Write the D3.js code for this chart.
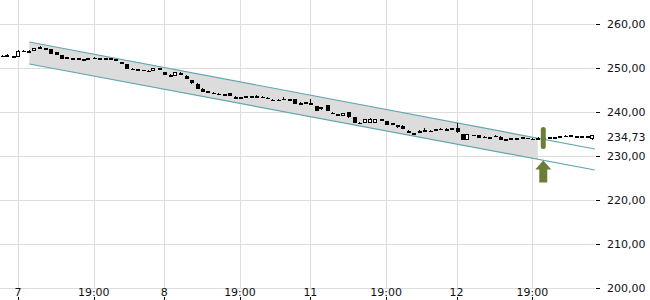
<!DOCTYPE html>
<html>
<head>
<meta charset="utf-8">
<script src="https://cdn.jsdelivr.net/npm/d3@7"></script>
<style>
body { margin: 0; background: #fff; }
text { font-family: "DejaVu Sans", sans-serif; font-size: 11px; fill: #111; }
</style>
</head>
<body>
<div id="chart"></div>
<script>
var w = 650,
    h = 300;

// candles, one per slot (index 0..109)
var opens = [252.80,252.85,252.65,252.45,253.95,253.78,253.85,254.70,254.55,254.30,
  253.55,252.95,252.10,252.27,252.20,252.10,251.85,252.35,252.27,252.25,
  252.20,252.10,251.30,250.90,249.84,249.77,249.55,249.32,249.35,249.93,
  249.15,248.50,248.20,248.85,248.25,247.20,246.45,245.30,244.70,244.43,
  244.20,244.09,244.25,243.50,243.40,243.57,243.55,243.57,243.48,243.25,
  242.80,242.80,243.02,242.89,242.90,241.98,242.27,242.00,241.35,240.60,
  241.50,239.85,239.55,239.10,239.90,238.85,237.57,237.45,237.60,237.45,
  238.45,238.00,237.50,237.10,236.90,235.75,235.20,235.57,235.80,235.75,
  236.07,236.25,236.07,236.30,236.30,235.00,233.65,234.80,234.70,234.39,
  234.25,234.65,234.40,233.80,233.75,234.09,234.25,234.10,233.93,233.90,
  234.20,234.25,234.25,234.20,234.55,234.70,234.50,234.45,234.45,233.80];
var highs = [252.85,253.15,252.70,254.00,254.05,254.05,254.55,255.05,254.60,254.35,
  253.60,253.00,252.45,252.32,252.25,252.15,252.30,252.40,252.32,252.30,
  252.25,252.15,251.35,250.95,250.10,249.82,249.60,249.60,249.95,249.98,
  249.20,248.55,249.05,249.15,248.30,247.25,246.50,245.35,244.75,244.48,
  244.25,244.14,244.30,243.55,243.45,243.62,243.60,243.85,243.53,243.30,
  242.85,242.85,243.30,242.94,242.95,242.30,242.32,242.90,241.40,241.25,
  241.55,239.90,239.60,239.75,239.95,238.90,237.62,238.40,238.60,238.40,
  238.50,238.05,237.55,237.15,236.95,235.80,235.25,235.85,236.30,235.80,
  236.12,236.45,236.35,236.35,237.60,235.05,235.05,234.85,234.75,234.65,
  234.30,234.70,234.45,233.85,234.10,234.14,234.30,234.15,234.15,234.25,
  234.25,234.30,234.30,234.60,234.85,234.75,234.55,234.50,234.50,234.78];
var lows = [252.75,252.60,252.35,252.40,253.60,253.50,253.80,254.65,254.10,253.15,
  252.85,252.05,252.05,252.22,252.15,251.55,251.80,251.95,252.22,252.00,
  251.95,251.55,251.25,249.75,249.80,249.72,249.50,249.05,249.30,249.88,
  248.30,247.90,248.15,248.50,247.40,246.45,245.20,244.50,244.65,244.38,
  244.15,244.04,243.65,242.85,242.90,243.52,243.30,243.52,243.43,242.90,
  242.75,242.75,242.97,242.84,241.75,241.70,242.22,241.50,240.25,240.55,
  240.25,239.50,239.05,239.05,238.75,237.50,237.52,237.40,237.55,237.40,
  237.85,236.95,236.95,236.45,236.05,235.25,234.75,235.30,235.75,235.70,
  236.02,236.05,235.80,236.25,235.25,233.60,233.60,234.60,234.05,234.15,
  234.20,234.40,233.60,233.75,233.70,234.04,234.20,234.05,233.88,233.85,
  234.15,234.20,234.20,234.15,234.50,234.65,234.05,234.10,234.05,233.75];
var closes = [252.78,252.88,252.40,253.95,253.65,253.80,254.50,254.72,254.15,253.20,
  252.90,252.10,252.40,252.27,252.20,251.60,252.25,252.00,252.27,252.05,
  252.00,251.60,251.30,249.80,249.84,249.77,249.55,249.32,249.90,249.93,
  248.35,247.95,249.00,248.55,247.45,246.50,245.25,244.55,244.70,244.43,
  244.20,244.09,243.70,242.90,242.95,243.57,243.35,243.57,243.48,242.95,
  242.80,242.80,243.02,242.89,241.80,241.98,242.27,241.55,240.30,241.20,
  240.30,239.55,239.10,239.70,238.80,237.55,237.57,238.35,238.30,238.35,
  237.90,237.00,237.00,236.50,236.10,235.30,234.85,235.57,235.80,235.75,
  236.07,236.10,236.07,236.30,235.40,233.65,235.00,234.65,234.15,234.39,
  234.25,234.45,233.65,233.80,234.05,234.09,234.25,234.10,233.93,234.20,
  234.20,234.25,234.25,234.55,234.55,234.70,234.10,234.15,234.10,234.73];

// x axis: slot index of each tick and its label
var tickSlots = [3, 17, 30, 44, 57, 71, 84, 98];
var tickLabels = ["7", "19:00", "8", "19:00", "11", "19:00", "12", "19:00"];

// y axis
var yTicks = [200, 210, 220, 230, 240, 250, 260];
var lastPrice = 234.73;

// trend channel (slot, value)
var channelSlots = [5.1, 109.54];
var channelUpper = [255.91, 231.59];
var channelLower = [250.91, 226.82];
var shadeEndSlot = 99;

// signal marker
var signalSlot = 100;
var signalRange = [231.6, 236.6];
var arrowTip = 229.0;

var svg = d3.select("#chart")
  .append("svg")
  .attr("width", w)
  .attr("height", h);

var x = d3.scaleLinear().domain([0, 109]).range([1.7, 592]);
var y = d3.scaleLinear().domain([200, 260]).range([288, 24]);
var fmt = function(v) { return d3.format(".2f")(v).replace(".", ","); };

// grid
svg.selectAll(".hgrid")
  .data(yTicks)
  .enter()
  .append("line")
  .attr("x1", 0).attr("x2", 595)
  .attr("y1", function(d) { return Math.round(y(d)) + 0.5; })
  .attr("y2", function(d) { return Math.round(y(d)) + 0.5; })
  .attr("stroke", "#dddddd");

svg.selectAll(".vgrid")
  .data(tickSlots)
  .enter()
  .append("line")
  .attr("x1", function(d) { return Math.round(x(d)) + 0.5; })
  .attr("x2", function(d) { return Math.round(x(d)) + 0.5; })
  .attr("y1", 0).attr("y2", 289)
  .attr("stroke", "#dddddd");

// channel shading
var lerp = function(a, b, t) { return a + (b - a) * t; };
var tEnd = (shadeEndSlot - channelSlots[0]) / (channelSlots[1] - channelSlots[0]);
var shade = [
  [x(channelSlots[0]), y(channelUpper[0])],
  [x(shadeEndSlot), y(lerp(channelUpper[0], channelUpper[1], tEnd))],
  [x(shadeEndSlot), y(lerp(channelLower[0], channelLower[1], tEnd))],
  [x(channelSlots[0]), y(channelLower[0])]
];
svg.append("polygon")
  .attr("points", shade.map(function(p) { return p.join(","); }).join(" "))
  .attr("fill", "#dcdcdc");

[channelUpper, channelLower].forEach(function(c) {
  svg.append("line")
    .attr("x1", x(channelSlots[0])).attr("y1", y(c[0]))
    .attr("x2", x(channelSlots[1])).attr("y2", y(c[1]))
    .attr("stroke", "#62a6ae")
    .attr("stroke-width", 1.2);
});

// candles
var candles = opens.map(function(o, i) {
  return { i: i, o: o, h: highs[i], l: lows[i], c: closes[i] };
});

var g = svg.append("g").attr("shape-rendering", "crispEdges");

g.selectAll(".wick")
  .data(candles)
  .enter()
  .append("line")
  .attr("x1", function(d) { return Math.round(x(d.i)) + 0.5; })
  .attr("x2", function(d) { return Math.round(x(d.i)) + 0.5; })
  .attr("y1", function(d) { return y(d.h); })
  .attr("y2", function(d) { return y(d.l); })
  .attr("stroke", "#000");

g.selectAll(".body")
  .data(candles)
  .enter()
  .append("rect")
  .attr("x", function(d) { return d.c > d.o ? Math.round(x(d.i)) - 1.5 : Math.round(x(d.i)) - 1.5; })
  .attr("width", function(d) { return d.c > d.o ? 3 : 4; })
  .attr("y", function(d) { return d.c > d.o ? y(d.c) + 0.5 : y(Math.max(d.o, d.c)); })
  .attr("height", function(d) {
    var hh = Math.max(1.5, Math.abs(y(d.o) - y(d.c)));
    return d.c > d.o ? Math.max(1, hh - 1) : hh;
  })
  .attr("fill", function(d) { return d.c > d.o ? "#fff" : "#000"; })
  .attr("stroke", function(d) { return d.c > d.o ? "#000" : "none"; });

// signal marker and arrow
var sx = x(signalSlot);
svg.append("rect")
  .attr("x", sx - 2.5).attr("width", 5)
  .attr("y", y(signalRange[1]))
  .attr("height", y(signalRange[0]) - y(signalRange[1]))
  .attr("rx", 2.5)
  .attr("fill", "#6b7e39");

var ty = y(arrowTip);
svg.append("path")
  .attr("d", "M" + sx + "," + ty + " L" + (sx + 8) + "," + (ty + 9) + " L" + (sx + 4) + "," + (ty + 9) +
    " L" + (sx + 4) + "," + (ty + 22) + " L" + (sx - 4) + "," + (ty + 22) + " L" + (sx - 4) + "," + (ty + 9) +
    " L" + (sx - 8) + "," + (ty + 9) + " Z")
  .attr("fill", "#6b7e39");

// y axis labels and ticks
svg.selectAll(".ytick")
  .data(yTicks)
  .enter()
  .append("line")
  .attr("x1", 596).attr("x2", 600)
  .attr("y1", function(d) { return Math.round(y(d)) + 0.5; })
  .attr("y2", function(d) { return Math.round(y(d)) + 0.5; })
  .attr("stroke", "#000");

svg.selectAll(".ylabel")
  .data(yTicks)
  .enter()
  .append("text")
  .attr("x", 607)
  .attr("y", function(d) { return y(d) + 4; })
  .text(fmt);

svg.append("text")
  .attr("x", 607)
  .attr("y", y(lastPrice) + 5.5)
  .text(fmt(lastPrice));

// x axis labels and ticks
svg.selectAll(".xtick")
  .data(tickSlots)
  .enter()
  .append("line")
  .attr("x1", function(d) { return Math.round(x(d)) + 0.5; })
  .attr("x2", function(d) { return Math.round(x(d)) + 0.5; })
  .attr("y1", 297).attr("y2", 300)
  .attr("stroke", "#000");

svg.selectAll(".xlabel")
  .data(tickSlots)
  .enter()
  .append("text")
  .attr("x", function(d) { return x(d); })
  .attr("y", 296)
  .attr("text-anchor", "middle")
  .text(function(d, i) { return tickLabels[i]; });
</script>
</body>
</html>
